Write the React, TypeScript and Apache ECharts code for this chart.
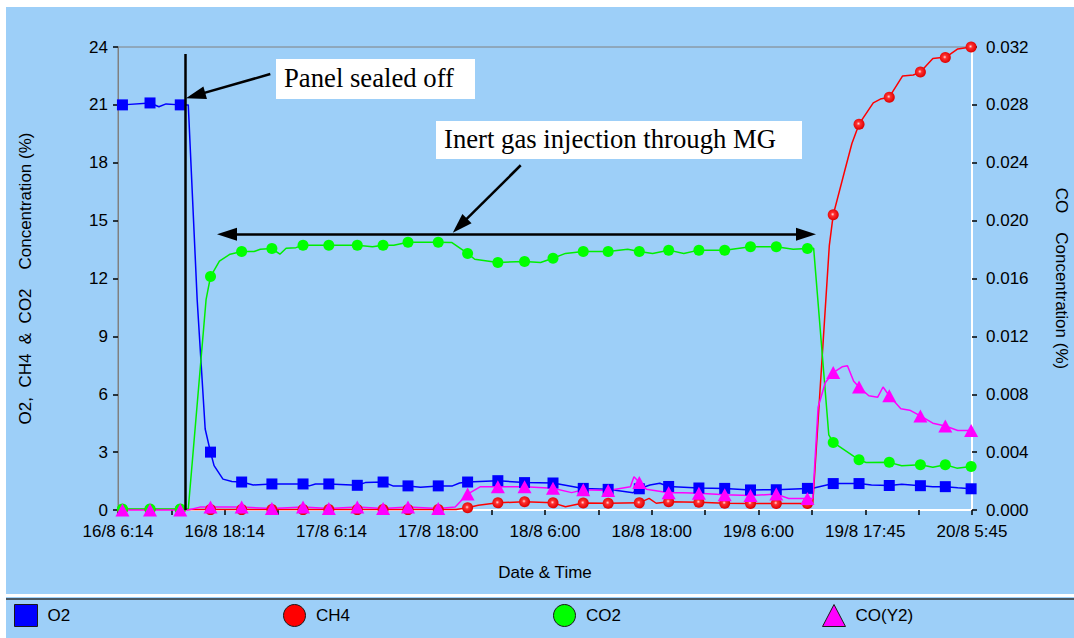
import { useEffect, useRef } from 'react';
import * as echarts from 'echarts';

// ---------- data ----------
const xTickLabels = ['16/8 6:14', '16/8 18:14', '17/8 6:14', '17/8 18:00', '18/8 6:00', '18/8 18:00', '19/8 6:00', '19/8 17:45', '20/8 5:45'];

// sampling times (hours after 16/8 6:14) of the marked readings
const markerHours = [0.5, 3.6, 7.0, 10.4, 13.9, 17.3, 20.8, 23.7, 26.9, 29.8, 32.6, 36.0, 39.3, 42.7, 45.7, 48.9, 52.3, 55.1, 58.6, 61.9, 65.3, 68.2, 71.1, 74.0, 77.5, 80.4, 83.3, 86.7, 90.2, 93.0, 95.9];

const o2Marked = [21.0, 21.1, 21.0, 3.0, 1.45, 1.35, 1.35, 1.35, 1.28, 1.45, 1.25, 1.25, 1.45, 1.52, 1.42, 1.4, 1.12, 1.07, 1.1, 1.22, 1.14, 1.12, 1.04, 1.05, 1.12, 1.37, 1.37, 1.27, 1.26, 1.21, 1.1];
const o2Between: [number, number][] = [[4.6, 20.9], [5.4, 21.05], [7.9, 21.0], [8.9, 10.9], [9.8, 4.2], [10.8, 2.3], [11.8, 1.6], [12.8, 1.48], [15.2, 1.3], [21.5, 1.25], [22.2, 1.35], [27.8, 1.42], [30.9, 1.25], [34.0, 1.18], [37.6, 1.25], [38.4, 1.4], [57.9, 0.9], [59.8, 1.3], [60.9, 1.39], [78.1, 1.13], [84.7, 1.3], [88.1, 1.33], [91.6, 1.21], [94.4, 1.15]];

const ch4Marked = [0.02, 0.02, 0.02, 0.02, 0.02, 0.02, 0.02, 0.02, 0.02, 0.02, 0.02, 0.02, 0.12, 0.37, 0.43, 0.37, 0.36, 0.35, 0.37, 0.43, 0.4, 0.35, 0.34, 0.34, 0.34, 15.3, 20.0, 21.4, 22.7, 23.45, 24.0];
const ch4Between: [number, number][] = [[38.0, 0.02], [40.5, 0.25], [50.3, 0.17], [59.7, 0.6], [60.5, 0.35], [78.1, 0.34], [79.96, 13.7], [81.7, 17.6], [82.5, 19.0], [84.9, 21.1], [85.7, 21.3], [88.2, 22.5], [89.4, 22.55], [91.6, 23.4], [92.6, 23.45], [94.4, 23.9]];

const co2Marked = [0.05, 0.05, 0.05, 12.1, 13.4, 13.55, 13.72, 13.72, 13.72, 13.72, 13.88, 13.88, 13.3, 12.83, 12.88, 13.05, 13.4, 13.4, 13.4, 13.47, 13.47, 13.47, 13.65, 13.64, 13.56, 3.5, 2.6, 2.47, 2.34, 2.35, 2.25];
const co2Between: [number, number][] = [[7.9, 0.05], [9.9, 10.9], [11.4, 12.9], [12.6, 13.26], [15.3, 13.4], [16.0, 13.52], [18.2, 13.26], [18.9, 13.57], [20.0, 13.6], [28.6, 13.65], [31.0, 13.72], [37.5, 13.87], [40.1, 13.0], [47.5, 12.83], [50.3, 13.3], [57.3, 13.52], [60.1, 13.3], [63.6, 13.3], [75.9, 13.52], [78.2, 13.57], [79.9, 3.9], [84.1, 2.46], [88.1, 2.29], [91.6, 2.22], [94.3, 2.17]];

const coMarked = [0.0, 0.0, 0.0, 0.0002, 0.0002, 0.0001, 0.0002, 0.0001, 0.0002, 0.0001, 0.0002, 0.0001, 0.0011, 0.0016, 0.0016, 0.0015, 0.0014, 0.00135, 0.0019, 0.0012, 0.00115, 0.00105, 0.001, 0.0011, 0.0008, 0.0095, 0.0085, 0.0079, 0.0065, 0.0058, 0.0055];
const coBetween: [number, number][] = [[7.9, 0.0], [9.2, 0.0002], [37.9, 0.0002], [40.7, 0.0016], [51.0, 0.0012], [56.6, 0.0015], [57.6, 0.0016], [58.0, 0.0023], [59.4, 0.00143], [63.5, 0.0012], [75.4, 0.0008], [78.1, 0.0008], [78.7, 0.0071], [79.5, 0.0088], [81.4, 0.0099], [82.0, 0.00997], [82.7, 0.0089], [84.4, 0.0079], [85.4, 0.0078], [86.0, 0.0085], [88.0, 0.007], [89.0, 0.0069], [91.6, 0.006], [94.4, 0.0055]];

// annotation anchors in data units (hours, % on left axis)
const sealLine: [number, number][] = [[7.52, 23.64], [7.52, 0]];
const sealArrow: [number, number][] = [[17.12, 22.6], [8.72, 21.49]];
const injectArrow: [number, number][] = [[45.27, 17.87], [38.43, 14.74]];
const injectSpan: [number, number][] = [[12.25, 14.29], [77.34, 14.29]];

const BLUE_BG = '#9dcff8';

function build(marked: number[], between: [number, number][]) {
  const pts: any[] = marked.map((v, i) => ({ value: [markerHours[i], v] }));
  between.forEach(([t, v]) => pts.push({ value: [t, v], symbol: 'none' }));
  return pts.sort((a, b) => a.value[0] - b.value[0]);
}

export default function App() {
  const ref = useRef<HTMLDivElement>(null);
  useEffect(() => {
    if (!ref.current) return;
    const chart = echarts.init(ref.current, null, { renderer: 'svg' });
    const redBall = new echarts.graphic.RadialGradient(0.45, 0.45, 0.55, [
      { offset: 0, color: '#ffe0e0' },
      { offset: 0.3, color: '#ff3030' },
      { offset: 1, color: '#dd0000' },
    ]);
    const arrowHead = { symbol: 'triangle', symbolSize: [13, 20] };
    const option: any = {
      animation: false,
      backgroundColor: '#ffffff',
      textStyle: { fontFamily: 'Liberation Sans, Arial, sans-serif', color: '#000' },
      grid: {
        left: 118, right: 102, top: 47, bottom: 128,
        show: true, borderColor: '#808080', borderWidth: 1, backgroundColor: 'transparent',
        containLabel: false, outerBoundsMode: 'none',
      },
      graphic: [
        { type: 'rect', z: -10, silent: true, shape: { x: 6, y: 7, width: 1068, height: 631 }, style: { fill: BLUE_BG } },
        { type: 'line', z: -5, silent: true, shape: { x1: 6, y1: 595.5, x2: 1074, y2: 595.5 }, style: { stroke: '#ffffff', lineWidth: 3 } },
        { type: 'line', z: -5, silent: true, shape: { x1: 6, y1: 599, x2: 1074, y2: 599 }, style: { stroke: '#303030', lineWidth: 1.5 } },
        { type: 'rect', z: 50, silent: true, shape: { x: 276, y: 59, width: 199, height: 40 }, style: { fill: '#ffffff' } },
        { type: 'text', z: 51, silent: true, x: 284, y: 78, style: { text: 'Panel sealed off', fontSize: 26.7, fontFamily: 'Liberation Serif, Times New Roman, serif', fill: '#000', verticalAlign: 'middle', align: 'left' } },
        { type: 'rect', z: 50, silent: true, shape: { x: 436, y: 121, width: 366, height: 38 }, style: { fill: '#ffffff' } },
        { type: 'text', z: 51, silent: true, x: 444, y: 139, style: { text: 'Inert gas injection through MG', fontSize: 26.7, fontFamily: 'Liberation Serif, Times New Roman, serif', fill: '#000', verticalAlign: 'middle', align: 'left' } },
      ],
      legend: [
        { name: 'O2', left: 14, icon: 'rect', color: '#0000ff' },
        { name: 'CH4', left: 283, icon: 'circle', color: '#ff0000' },
        { name: 'CO2', left: 553, icon: 'circle', color: '#00ff00' },
        { name: 'CO(Y2)', left: 822, icon: 'triangle', color: '#ff00ff' },
      ].map((l) => ({
        left: l.left, top: 604, padding: 0, itemWidth: 23, itemHeight: 22, selectedMode: false,
        data: [{ name: l.name, icon: l.icon, itemStyle: { color: l.color, borderColor: '#1a1a1a', borderWidth: 1 } }],
        textStyle: { fontSize: 17, color: '#000', padding: [0, 0, 0, 5] },
      })),
      xAxis: {
        type: 'value', min: 0, max: 96, interval: 6,
        axisLine: { show: true, onZero: false, lineStyle: { color: '#ffffff', width: 2 } },
        axisTick: { show: true, length: 5, lineStyle: { color: '#000', width: 1.5 } },
        axisLabel: {
          margin: 13, fontSize: 17, color: '#000', showMinLabel: true, showMaxLabel: true,
          formatter: (v: number) => { const k = Math.round(v); return k % 12 === 0 ? xTickLabels[k / 12] : ''; },
        },
        splitLine: { show: false },
        name: 'Date & Time', nameLocation: 'middle', nameGap: 54,
        nameTextStyle: { fontSize: 17, color: '#000' },
      },
      yAxis: [
        {
          type: 'value', min: 0, max: 24, interval: 3, position: 'left',
          axisLine: { show: true, lineStyle: { color: '#808080', width: 1 } },
          axisTick: { show: true, length: 5, lineStyle: { color: '#000', width: 1.5 } },
          axisLabel: { margin: 10, fontSize: 17, color: '#000' },
          splitLine: { show: false },
          name: 'O2,  CH4  &  CO2    Concentration (%)', nameLocation: 'middle', nameGap: 84,
          nameTextStyle: { fontSize: 17, color: '#000' },
        },
        {
          type: 'value', min: 0, max: 0.032, interval: 0.004, position: 'right',
          axisLine: { show: true, lineStyle: { color: '#ffffff', width: 2 } },
          axisTick: { show: true, length: 5, lineStyle: { color: '#000', width: 1.5 } },
          axisLabel: { margin: 14, fontSize: 17, color: '#000', formatter: (v: number) => v.toFixed(3) },
          splitLine: { show: false },
          name: 'CO    Concentration (%)', nameLocation: 'middle', nameGap: 81, nameRotate: -90,
          nameTextStyle: { fontSize: 17, color: '#000' },
        },
      ],
      series: [
        {
          name: 'O2', type: 'line', yAxisIndex: 0, data: build(o2Marked, o2Between),
          symbol: 'rect', symbolSize: 11, showSymbol: true, showAllSymbol: true, clip: false,
          itemStyle: { color: '#0000ff' }, lineStyle: { color: '#0000ff', width: 1.5 },
          emphasis: { disabled: true }, silent: true,
          markLine: {
            silent: true, animation: false, label: { show: false },
            lineStyle: { color: '#000', width: 2.5, type: 'solid' },
            symbol: ['none', 'none'],
            data: [
              [{ coord: sealLine[0], symbol: 'none' }, { coord: sealLine[1], symbol: 'none' }],
              [{ coord: sealArrow[0], symbol: 'none' }, { coord: sealArrow[1], ...arrowHead }],
              [{ coord: injectArrow[0], symbol: 'none' }, { coord: injectArrow[1], ...arrowHead }],
              [{ coord: injectSpan[0], ...arrowHead }, { coord: injectSpan[1], ...arrowHead }],
            ],
          },
        },
        {
          name: 'CH4', type: 'line', yAxisIndex: 0, data: build(ch4Marked, ch4Between),
          symbol: 'circle', symbolSize: 11, showSymbol: true, showAllSymbol: true, clip: false,
          itemStyle: { color: redBall }, lineStyle: { color: '#ff0000', width: 1.5 },
          emphasis: { disabled: true }, silent: true,
        },
        {
          name: 'CO2', type: 'line', yAxisIndex: 0, data: build(co2Marked, co2Between),
          symbol: 'circle', symbolSize: 11, showSymbol: true, showAllSymbol: true, clip: false,
          itemStyle: { color: '#00ff00' }, lineStyle: { color: '#00ee00', width: 1.5 },
          emphasis: { disabled: true }, silent: true,
        },
        {
          name: 'CO(Y2)', type: 'line', yAxisIndex: 1, data: build(coMarked, coBetween),
          symbol: 'triangle', symbolSize: [14, 13], showSymbol: true, showAllSymbol: true, clip: false,
          itemStyle: { color: '#ff00ff' }, lineStyle: { color: '#ff00ff', width: 1.5 },
          emphasis: { disabled: true }, silent: true,
        },
      ],
    };
    chart.setOption(option);
    return () => chart.dispose();
  }, []);
  return <div ref={ref} style={{ position: 'absolute', left: 0, top: 0, width: 1074, height: 638 }} />;
}
